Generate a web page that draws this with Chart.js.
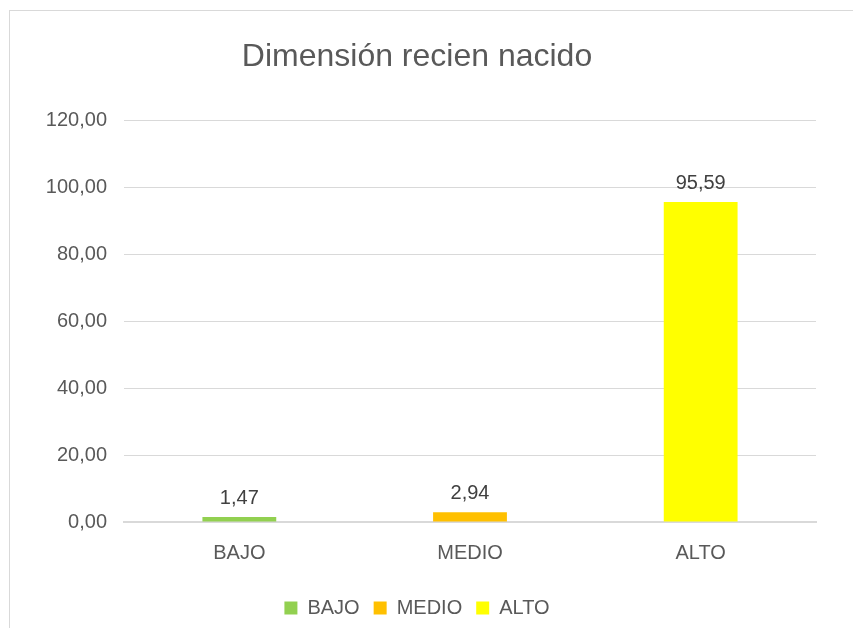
<!DOCTYPE html>
<html>
<head>
<meta charset="utf-8">
<script src="https://cdn.jsdelivr.net/npm/chart.js@4"></script>
<style>
  body { margin: 0; background: #fff; }
  #wrap { position: relative; width: 853px; height: 628px; overflow: hidden; }
  #frame { position: absolute; left: 9px; top: 10px; width: 900px; height: 700px; border: 1px solid #d9d9d9; }
  canvas { position: absolute; left: 0; top: 0; }
</style>
</head>
<body>
<div id="wrap">
  <div id="frame"></div>
  <canvas id="chart" width="853" height="628"></canvas>
</div>
<script>
// Data
var categories = ["BAJO", "MEDIO", "ALTO"];
var values = [1.47, 2.94, 95.59];
var barColors = ["#92D050", "#FFC000", "#FFFF00"];
var yTicks = [0, 20, 40, 60, 80, 100, 120];

var fontFamily = "'Liberation Sans', Arial, sans-serif";
var textColor = "#595959";

function fmt(v) {
  return v.toFixed(2).replace(".", ",");
}

// one dataset per category so the legend shows each one
var datasets = categories.map(function (c, i) {
  var data = categories.map(function (_, j) { return j === i ? values[i] : null; });
  return {
    label: c,
    data: data,
    backgroundColor: barColors[i],
    borderWidth: 0
  };
});

// Value labels above the bars
var valueLabels = {
  id: "valueLabels",
  afterDatasetsDraw: function (chart) {
    var ctx = chart.ctx;
    ctx.save();
    ctx.font = "20px " + fontFamily;
    ctx.fillStyle = "#404040";
    ctx.textAlign = "center";
    ctx.textBaseline = "bottom";
    chart.data.datasets.forEach(function (ds, i) {
      var meta = chart.getDatasetMeta(i);
      meta.data.forEach(function (bar, j) {
        if (ds.data[j] == null) return;
        ctx.fillText(fmt(ds.data[j]), bar.x, bar.y - 9);
      });
    });
    ctx.restore();
  }
};

new Chart(document.getElementById("chart").getContext("2d"), {
  type: "bar",
  data: { labels: categories, datasets: datasets },
  plugins: [valueLabels],
  options: {
    responsive: false,
    animation: false,
    layout: { padding: { left: 18, right: 37, top: 0, bottom: 0 } },
    datasets: { bar: { grouped: false, barPercentage: 0.32, categoryPercentage: 1 } },
    plugins: {
      title: {
        display: true,
        text: "Dimensión recien nacido",
        color: textColor,
        font: { family: fontFamily, size: 32, weight: "normal" },
        padding: { top: 38, bottom: 44 }
      },
      legend: {
        position: "bottom",
        labels: {
          color: textColor,
          font: { family: fontFamily, size: 20 },
          boxWidth: 13,
          boxHeight: 13,
          padding: 14
        }
      },
      tooltip: { enabled: false }
    },
    scales: {
      x: {
        grid: { display: false, drawTicks: false },
        border: { color: "#d9d9d9", width: 2 },
        ticks: { color: textColor, font: { family: fontFamily, size: 20 }, padding: 19 }
      },
      y: {
        min: 0,
        max: 120,
        afterFit: function (scale) { scale.width = 106; },
        afterBuildTicks: function (scale) {
          scale.ticks = yTicks.map(function (v) { return { value: v }; });
        },
        grid: { color: "#d9d9d9", drawTicks: false },
        border: { display: false },
        ticks: {
          color: textColor,
          font: { family: fontFamily, size: 20 },
          padding: 17,
          callback: function (v) { return fmt(v); }
        }
      }
    }
  }
});
</script>
</body>
</html>
